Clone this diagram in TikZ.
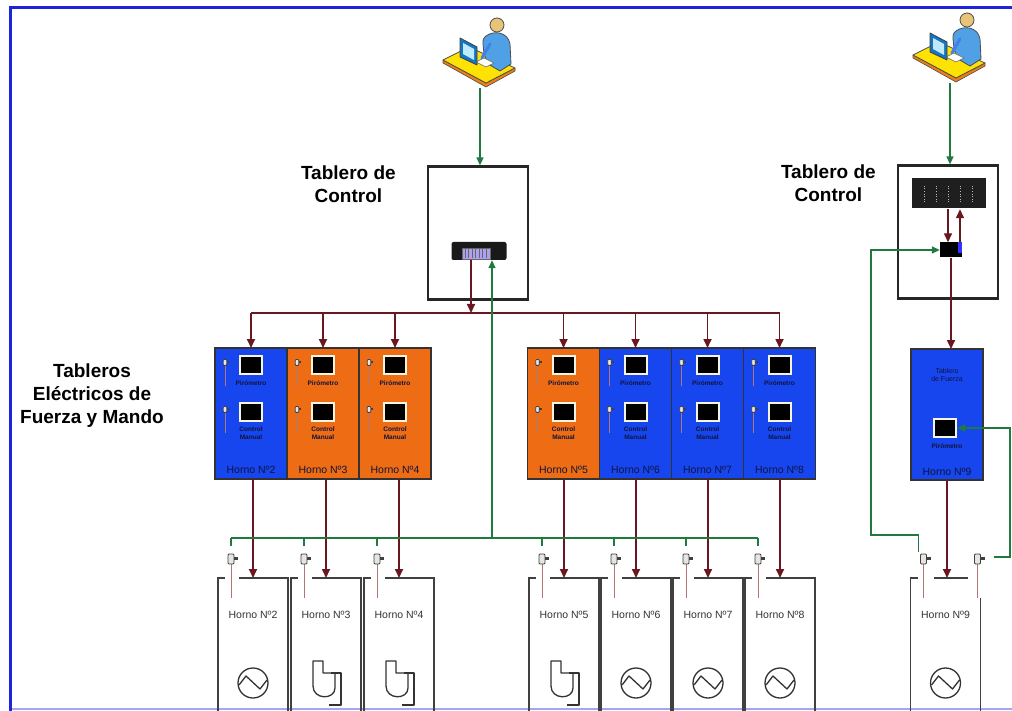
\documentclass[tikz,border=0pt]{standalone}
\usepackage{fontspec}
\setmainfont{Liberation Sans}
\usetikzlibrary{positioning, arrows.meta, calc}

\definecolor{marco}{RGB}{28,36,220}
\definecolor{azul}{RGB}{24,70,238}
\definecolor{naranja}{RGB}{238,108,20}
\definecolor{guinda}{RGB}{106,24,32}
\definecolor{verde}{RGB}{32,122,64}
\definecolor{crema}{RGB}{248,244,226}
\definecolor{lila}{RGB}{176,160,240}
\definecolor{tinta}{RGB}{14,20,60}
\definecolor{piel}{RGB}{232,196,120}
\definecolor{cielo}{RGB}{80,160,230}
\definecolor{vaina}{RGB}{176,118,118}

\begin{document}
\begin{tikzpicture}[
  x=1pt, y=-1pt,
  ctrl/.style={draw=black!85, line width=2.2pt, minimum width=100pt, minimum height=133pt, inner sep=0pt},
  tablero/.style={draw=black!80, line width=1.2pt, minimum width=72pt, minimum height=131pt,
                  inner sep=0pt, outer sep=0pt},
  tazul/.style={tablero, fill=azul},
  tnaranja/.style={tablero, fill=naranja},
  horno/.style={minimum width=70pt, minimum height=133pt, inner sep=0pt, outer sep=0pt},
  icono/.style={minimum width=72pt, minimum height=76pt, inner sep=0pt},
  monitor/.style={fill=black, draw=crema, line width=2pt, minimum width=22pt, minimum height=18pt, inner sep=0pt},
  titulo/.style={font=\fontsize{19}{23}\selectfont\bfseries, align=center, inner sep=0pt},
  etq/.style={font=\fontsize{10.5}{12}\selectfont, text=black!80},
  mini/.style={font=\fontsize{6.5}{7.5}\selectfont\bfseries, align=center, text=tinta},
  arr/.style={-{Stealth[length=9pt, width=8pt, inset=0pt]}, line width=1.7pt, draw=guinda},
  bus/.style={line width=1.5pt, draw=guinda},
  garr/.style={-{Stealth[length=8pt, width=7pt, inset=0pt]}, line width=1.4pt, draw=verde},
  gbus/.style={line width=1.4pt, draw=verde},
  pared/.style={line width=1.3pt, draw=black!75},
  simbolo/.style={line width=1.3pt, draw=black!80, line join=round},
  sonda/.pic={
    \draw[line width=0.9pt, draw=vaina] (0,4) -- (0,38);
    \filldraw[fill=gray!20, draw=black!75, line width=0.8pt, rounded corners=1pt] (-3,-6) rectangle (3,4);
    \fill[black!75] (3,-3) rectangle (7,0);
  },
  resist/.pic={
    \draw[simbolo] (0,0) circle (15);
    \draw[simbolo] (-14,2) -- (-7,-7) -- (7,6) -- (14,-3);
  },
  soplador/.pic={
    \draw[simbolo] (-13,-22) -- (-3,-22) -- (-3,-10) -- (9,-10) -- (9,5)
      .. controls (9,17) and (-13,17) .. (-13,3) -- cycle;
    \draw[simbolo] (5,-10) -- (15,-10) -- (15,22) -- (3,22);
  },
  operador/.pic={
    % escritorio
    \filldraw[fill=orange!70!brown, draw=black!70, line width=0.6pt, line join=round]
      (-37,10) -- (6,33) -- (35,18) -- (35,21) -- (6,37) -- (-37,13) -- cycle;
    \filldraw[fill=yellow!85!orange, draw=black!70, line width=0.8pt, line join=round]
      (-37,10) -- (-11,-3) -- (35,18) -- (6,33) -- cycle;
    % persona
    \filldraw[fill=cielo, draw=black!70, line width=0.8pt, line join=round]
      (6,-14) .. controls (14,-20) and (28,-18) .. (30,-6) -- (31,14) -- (20,21)
      -- (8,14) -- (4,4) -- (3,-6) .. controls (3,-11) .. (6,-14) -- cycle;
    \filldraw[fill=piel, draw=black!70, line width=0.8pt] (17,-25) circle (7);
    \draw[line width=3pt, cielo!80!blue, line cap=round] (10,-6) -- (2,8);
    % teclado
    \filldraw[fill=white, draw=black!60, line width=0.5pt] (-4,12) -- (4,8) -- (14,13) -- (6,17) -- cycle;
    % pantalla
    \filldraw[fill=cyan!55!blue, draw=black!75, line width=0.8pt, line join=round]
      (-20,-12) -- (-3,-3) -- (-3,15) -- (-20,7) -- cycle;
    \fill[cyan!25] (-17,-7) -- (-6,-1) -- (-6,10) -- (-17,4) -- cycle;
  },
]
\useasboundingbox (0,0) rectangle (1012,711);

% Marco
\draw[line width=2pt, marco!40] (10,709) -- (1012,709);
\draw[line width=3pt, marco] (10,711) -- (10,8) -- (1012,8);

% Operadores
\node[icono] (op1) at (480,50) {};
\node[icono] (op2) at (950,45) {};
\pic at (op1) {operador};
\pic at (op2) {operador};

% Tableros de control
\node[ctrl] (ctrl1) at (478,233) {};
\node[ctrl] (ctrl2) at (948,232) {};
\node[titulo, left=31pt of ctrl1.north west, anchor=north east] (lbl1) {Tablero de\\Control};
\node[titulo, left=21pt of ctrl2.north west, anchor=north east] (lbl2) {Tablero de\\Control};

% PLC del tablero 1
\node[fill=black!90, rounded corners=2pt, minimum width=55pt, minimum height=18pt, inner sep=0pt] (plc1) at (479,251) {};
\node[fill=lila, draw=black!60, line width=0.5pt, minimum width=28pt, minimum height=11pt, inner sep=0pt] (puerto) at (476,254) {};
\foreach \i in {1,...,7}
  \draw[black!60, line width=0.6pt] ($(puerto.north west)+(3.5*\i,1)$) -- ++(0,9);

% Rack y modulo del tablero 2
\node[fill=black!88, minimum width=74pt, minimum height=30pt, inner sep=0pt] (rack2) at (949,193) {};
\foreach \i in {1,...,5}
  \draw[gray!55, line width=0.6pt, dotted] ($(rack2.north west)+(12*\i,8)$) -- ++(0,18);
\node[fill=black, minimum width=22pt, minimum height=15pt, inner sep=0pt] (mod2) at (951,250) {};
\fill[blue!80] ($(mod2.north east)+(-4,0)$) rectangle ($(mod2.south east)+(0,-5)$);
\draw[arr, line width=1.4pt] ($(rack2.south)+(-1,1)$) -- ($(mod2.north)+(-3,0)$);
\draw[arr, line width=1.4pt] ($(mod2.north)+(9,0)$) -- ($(rack2.south)+(11,1)$);

% Tableros de fuerza y mando
\node[titulo, anchor=north] (lblt) at (92,364) {Tableros\\Eléctricos de\\Fuerza y Mando};
\node[tazul] (tb2) at (251,413.5) {};
\node[tnaranja, right=0pt of tb2] (tb3) {};
\node[tnaranja, right=0pt of tb3] (tb4) {};
\node[tnaranja] (tb5) at (563.5,413.5) {};
\node[tazul, right=0pt of tb5] (tb6) {};
\node[tazul, right=0pt of tb6] (tb7) {};
\node[tazul, right=0pt of tb7] (tb8) {};
\node[tazul] (tb9) at (947,414.5) {};

\foreach \t/\n in {tb2/2, tb3/3, tb4/4, tb5/5, tb6/6, tb7/7, tb8/8}{
  \node[monitor] at ($(\t.north)+(0,17)$) {};
  \node[mini] at ($(\t.north)+(0,35)$) {Pirómetro};
  \node[monitor] at ($(\t.north)+(0,64)$) {};
  \node[mini] at ($(\t.north)+(0,85)$) {Control\\Manual};
  \pic[scale=0.6] at ($(\t.north west)+(10,15)$) {sonda};
  \pic[scale=0.6] at ($(\t.north west)+(10,62)$) {sonda};
  \node[etq, text=tinta] at ($(\t.north)+(0,122)$) {Horno Nº\n};
}

\node[font=\fontsize{7}{8.5}\selectfont, align=center, text=tinta] at ($(tb9.north)+(0,26)$) {Tablero\\de Fuerza};
\node[monitor] (mon9) at ($(tb9.north)+(-2,79)$) {};
\node[mini] at ($(tb9.north)+(0,97)$) {Pirómetro};
\node[etq, text=tinta] at ($(tb9.north)+(0,123)$) {Horno Nº9};

% Hornos
\node[horno] (h2) at (253,644.5) {};
\node[horno, right=3pt of h2] (h3) {};
\node[horno, right=3pt of h3] (h4) {};
\node[horno] (h5) at (564,644.5) {};
\node[horno, right=2pt of h5] (h6) {};
\node[horno, right=2pt of h6] (h7) {};
\node[horno, right=2pt of h7] (h8) {};
\node[horno] (h9) at (945.5,644.5) {};

\foreach \h/\n in {h2/2, h3/3, h4/4, h5/5, h6/6, h7/7, h8/8}{
  \draw[pared] ($(\h.north west)+(7,0)$) -- (\h.north west) -- (\h.south west);
  \draw[pared] ($(\h.north west)+(21,0)$) -- (\h.north east) -- (\h.south east);
  \node[etq] at ($(\h.north)+(0,37)$) {Horno Nº\n};
  \coordinate (s\n) at ($(\h.north west)+(13,-18)$);
  \pic at (s\n) {sonda};
}
\draw[pared] ($(h9.north west)+(7,0)$) -- (h9.north west) -- (h9.south west);
\draw[pared] ($(h9.north west)+(23,0)$) -- ($(h9.north west)+(57,0)$);
\draw[pared] ($(h9.north east)+(0,20)$) -- (h9.south east);
\node[etq] at ($(h9.north)+(0,37)$) {Horno Nº9};
\coordinate (s9a) at ($(h9.north west)+(13,-18)$);
\coordinate (s9b) at ($(h9.north west)+(67,-18)$);
\pic at (s9a) {sonda};
\pic at (s9b) {sonda};

\pic at ($(h2.north)+(0,105)$) {resist};
\pic at ($(h3.north)+(0,105)$) {soplador};
\pic at ($(h4.north)+(0,105)$) {soplador};
\pic at ($(h5.north)+(0,105)$) {soplador};
\pic at ($(h6.north)+(0,105)$) {resist};
\pic at ($(h7.north)+(0,105)$) {resist};
\pic at ($(h8.north)+(0,105)$) {resist};
\pic at ($(h9.north)+(0,105)$) {resist};

% Lineas de fuerza
\coordinate (bb) at (0,313);
\draw[bus] (tb2.north |- bb) -- (tb8.north |- bb);
\draw[arr] ($(plc1.south)+(-8,0)$) -- ($(plc1.south |- bb)+(-8,0)$);
\foreach \t in {tb2, tb3, tb4, tb5, tb6, tb7, tb8}
  \draw[arr] (\t.north |- bb) -- (\t.north);
\foreach \t/\h in {tb2/h2, tb3/h3, tb4/h4, tb5/h5, tb6/h6, tb7/h7, tb8/h8}
  \draw[arr] (\h.north |- \t.south) -- (\h.north);
\draw[arr] (mod2.south) -- (mod2.south |- tb9.north);
\draw[arr] (tb9.south) -- (tb9.south |- h9.north);

% Senales
\draw[garr] (op1.south) -- (op1.south |- ctrl1.north);
\draw[garr] (op2.south) -- (op2.south |- ctrl2.north);
\coordinate (gb) at (0,538);
\draw[gbus] (s2 |- gb) -- (s8 |- gb);
\foreach \n in {2,...,8}
  \draw[gbus] (s\n |- gb) -- ($(s\n)+(0,-14)$);
\coordinate (gtap) at (492,538);
\draw[garr] (gtap) -- (gtap |- plc1.south);
\coordinate (gesq) at (871,535);
\draw[garr] ($(s9a)+(-5,-8)$) |- (gesq) |- (mod2.west);
\coordinate (gder) at (1010,557);
\draw[garr] ($(s9b)+(16,-3)$) -- (gder) |- (mon9.east);

\end{tikzpicture}
\end{document}
